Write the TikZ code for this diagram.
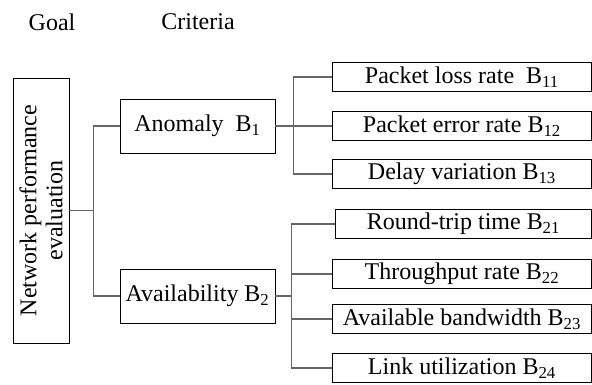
\documentclass[tikz,border=0pt]{standalone}
\usepackage{fontspec}
\setmainfont{Liberation Serif}
\usepackage{tikz}

\begin{document}
\begin{tikzpicture}[x=1pt, y=-1pt,
    txt/.style={font=\fontsize{24}{26}\selectfont},
    box/.style={txt, draw, line width=0.8pt, inner sep=0pt},
    crit/.style={box, minimum width=155pt, minimum height=54pt},
    leaf/.style={box, minimum width=259pt, minimum height=29pt, anchor=west},
    link/.style={draw=black!60, line width=1.2pt}]
    \useasboundingbox (0,0) rectangle (592,385);

    % headings
    \node[txt] (goal) at (52,22) {Goal};
    \node[txt] (criteria) at (198,22) {Criteria};

    % goal box (rotated, so its right side is net.south)
    \node[box, rotate=90, align=center, minimum width=265pt, minimum height=56pt] (net) at (41,210.5) {Network performance\\evaluation};

    % criteria
    \node[crit] (anom) at (197.5,126) {Anomaly\ \ B\textsubscript{1}};
    \node[crit] (avail) at (197.5,296) {Availability B\textsubscript{2}};

    % indicators
    \node[leaf] (b11) at (332,77) {Packet loss rate\ \ B\textsubscript{11}};
    \node[leaf] (b12) at (332,126) {Packet error rate B\textsubscript{12}};
    \node[leaf] (b13) at (332,174) {Delay variation B\textsubscript{13}};
    \node[leaf, minimum width=256pt] (b21) at (335,224) {Round-trip time B\textsubscript{21}};
    \node[leaf] (b22) at (332,274) {Throughput rate B\textsubscript{22}};
    \node[leaf] (b23) at (332,319) {Available bandwidth B\textsubscript{23}};
    \node[leaf] (b24) at (332,368) {Link utilization B\textsubscript{24}};

    \draw[link] (net.south) -- ++(24,0) coordinate (j0);
    \draw[link] (j0) |- (anom.west);
    \draw[link] (j0) |- (avail.west);

    \draw[link] (anom.east) -- ++(18,0) coordinate (j1);
    \foreach \n in {b11,b12,b13}
        \draw[link] (j1) |- (\n.west);

    \draw[link] (avail.east) -- ++(16,0) coordinate (j2);
    \foreach \n in {b21,b22,b23,b24}
        \draw[link] (j2) |- (\n.west);
\end{tikzpicture}
\end{document}
